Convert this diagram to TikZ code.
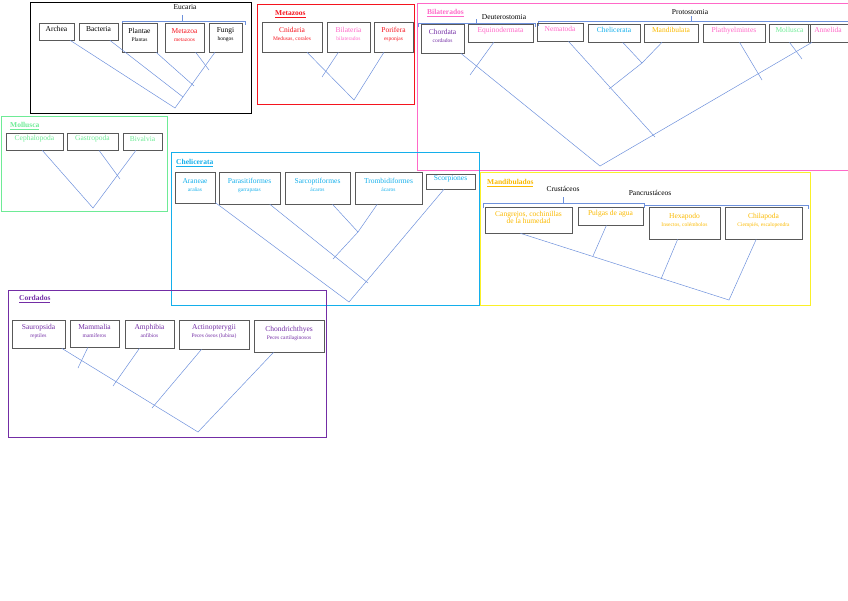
\documentclass[tikz,border=0pt]{standalone}
\usepackage{fontspec}
\setmainfont{Liberation Serif}
\usetikzlibrary{fit}
\definecolor{linkblue}{RGB}{110,145,220}
\definecolor{tred}{RGB}{245,20,30}
\definecolor{tpink}{RGB}{255,105,200}
\definecolor{tcyan}{RGB}{20,175,235}
\definecolor{tgold}{RGB}{250,185,0}
\definecolor{tgreen}{RGB}{110,235,150}
\definecolor{tpurple}{RGB}{115,45,165}
\definecolor{tyellow}{RGB}{250,240,40}
\newcommand{\sub}[1]{\\[-1pt]{\fontsize{5.5}{6}\selectfont #1}}
\begin{document}
\begin{tikzpicture}[x=1pt,y=-1pt,inner sep=0pt,
  taxon/.style={draw=black!65,line width=0.7pt,align=center,font=\fontsize{7.5}{9}\selectfont},
  frame/.style={line width=0.8pt},
  link/.style={draw=linkblue,line width=0.5pt},
  brace/.style={draw=linkblue,line width=0.5pt},
  title/.style={font=\fontsize{7.5}{9}\selectfont\bfseries,anchor=west},
  clade/.style={font=\fontsize{7.5}{9}\selectfont}]
\useasboundingbox (0,0) rectangle (848,600);
%Frames
\draw[frame,black] (30,2) rectangle (251,113);
\draw[frame,tred] (257,4) rectangle (414,104);
\draw[frame,tpink] (417,3) rectangle (848,170);
\draw[frame,tgreen] (1,116) rectangle (167,211);
\draw[frame,tcyan] (171,152) rectangle (479,305);
\draw[frame,tyellow] (480,172) rectangle (810,305);
\draw[frame,tpurple] (8,290) rectangle (326,437);
%Titles
\node[title,tred] at (275,14) {\underline{Metazoos}};
\node[title,tpink] at (427,13) {\underline{Bilaterados}};
\node[title,tgreen] at (10,126) {\underline{Mollusca}};
\node[title,tcyan] at (176,163) {\underline{Chelicerata}};
\node[title,tgold] at (487,183) {\underline{Mandibulados}};
\node[title,tpurple] at (19,299) {\underline{Cordados}};
\node[clade] (eucaria) at (185,7) {Eucaria};
\node[clade] (deutero) at (504,17) {Deuterostomia};
\node[clade] (proto) at (690,12) {Protostomia};
\node[clade] (crust) at (563,189) {Crustáceos};
\node[clade] (pancrust) at (650,193) {Pancrustáceos};
%Braces
\draw[brace] (122,25) -- (122,21) -- (245,21) -- (245,25) (182,21) -- (182,15);
\draw[brace] (418,27) -- (418,23) -- (535,23) -- (535,27) (476,23) -- (476,19);
\draw[brace] (538,26) -- (538,21) -- (848,21) (691,21) -- (691,16);
\draw[brace] (483,208) -- (483,203) -- (644,203) -- (644,208) (563,203) -- (563,197);
\draw[brace] (644,205) -- (808,205) -- (808,209);
%Eucaria
\node[taxon,fit={(39,23)(74,40)}] (archea) {Archea};
\node[taxon,fit={(79,23)(118,40)}] (bacteria) {Bacteria};
\node[taxon,fit={(122,23)(157,52)}] (plantae) {Plantae\sub{Plantas}};
\node[taxon,fit={(165,23)(204,52)},text=tred] (metazoa) {Metazoa\sub{metazoos}};
\node[taxon,fit={(209,23)(242,52)}] (fungi) {Fungi\sub{hongos}};
\coordinate (e1) at (209,70); \coordinate (e2) at (194,86);
\coordinate (e3) at (183,97); \coordinate (e0) at (175,108);
\draw[link] (archea) -- (e0) -- (fungi);
\draw[link] (bacteria) -- (e3);
\draw[link] (plantae) -- (e2);
\draw[link] (metazoa) -- (e1);
%Metazoos
\node[taxon,fit={(262,22)(322,52)},text=tred] (cnidaria) {Cnidaria\sub{Medusas, corales}};
\node[taxon,fit={(327,22)(370,52)},text=tpink] (bilateria) {Bilateria\sub{bilaterados}};
\node[taxon,fit={(374,22)(413,52)},text=tred] (porifera) {Porifera\sub{esponjas}};
\coordinate (m1) at (322,77); \coordinate (m0) at (354,100);
\draw[link] (cnidaria) -- (m0) -- (porifera);
\draw[link] (bilateria) -- (m1);
%Bilaterados
\node[taxon,fit={(421,24)(464,53)},text=tpurple] (chordata) {Chordata\sub{cordados}};
\node[taxon,fit={(468,24)(533,42)},text=tpink] (equino) {Equinodermata};
\node[taxon,fit={(537,23)(583,41)},text=tpink] (nematoda) {Nematoda};
\node[taxon,fit={(588,24)(640,42)},text=tcyan] (chelic) {Chelicerata};
\node[taxon,fit={(644,24)(698,42)},text=tgold] (mandib) {Mandibulata};
\node[taxon,fit={(703,24)(765,42)},text=tpink] (plathy) {Plathyelmintes};
\node[taxon,fit={(769,24)(810,42)},text=tgreen] (mollus) {Mollusca};
\node[taxon,fit={(808,24)(848,42)},text=tpink] (annelida) {Annelida};
\coordinate (b0) at (600,166); \coordinate (b1) at (470,75);
\coordinate (b2) at (655,137); \coordinate (b3) at (609,89);
\coordinate (b4) at (642,63); \coordinate (b5) at (762,80);
\coordinate (b6) at (802,59);
\draw[link] (chordata) -- (b0) -- (annelida);
\draw[link] (equino) -- (b1);
\draw[link] (nematoda) -- (b2);
\draw[link] (chelic) -- (b4) -- (b3);
\draw[link] (mandib) -- (b4);
\draw[link] (plathy) -- (b5);
\draw[link] (mollus.south) -- (b6);
%Mollusca
\node[taxon,fit={(6,133)(63,150)},text=tgreen] (cephalo) {Cephalopoda};
\node[taxon,fit={(67,133)(118,150)},text=tgreen] (gastro) {Gastropoda};
\node[taxon,fit={(123,133)(162,150)},text=tgreen] (bivalvia) {Bivalvia};
\coordinate (o1) at (120,179); \coordinate (o0) at (93,208);
\draw[link] (cephalo) -- (o0) -- (bivalvia);
\draw[link] (gastro) -- (o1);
%Chelicerata
\node[taxon,fit={(175,172)(215,203)},text=tcyan] (araneae) {Araneae\sub{arañas}};
\node[taxon,fit={(219,172)(280,204)},text=tcyan] (parasit) {Parasitiformes\sub{garrapatas}};
\node[taxon,fit={(285,172)(350,204)},text=tcyan] (sarcopt) {Sarcoptiformes\sub{ácaros}};
\node[taxon,fit={(355,172)(422,204)},text=tcyan] (trombid) {Trombidiformes\sub{ácaros}};
\node[taxon,fit={(426,174)(475,189)},text=tcyan] (scorp) {Scorpiones};
\coordinate (c0) at (349,302); \coordinate (c1) at (368,283);
\coordinate (c2) at (333,259); \coordinate (c3) at (358,232);
\draw[link] (araneae) -- (c0) -- (scorp);
\draw[link] (parasit) -- (c1);
\draw[link] (sarcopt) -- (c3);
\draw[link] (trombid) -- (c3) -- (c2);
%Mandibulados
\node[taxon,fit={(485,207)(572,233)},text=tgold] (cangrejos) {Cangrejos, cochinillas\\[-2pt]de la humedad};
\node[taxon,fit={(578,207)(643,225)},text=tgold] (pulgas) {Pulgas de agua};
\node[taxon,fit={(649,207)(720,239)},text=tgold] (hexapodo) {Hexapodo\sub{Insectos, colémbolos}};
\node[taxon,fit={(725,207)(802,239)},text=tgold] (chilapoda) {Chilapoda\sub{Ciempiés, escalopendra}};
\coordinate (d0) at (729,300); \coordinate (d1) at (593,256);
\coordinate (d2) at (661,279);
\draw[link] ([xshift=-8pt]cangrejos.south) -- (d0) -- (chilapoda);
\draw[link] (pulgas) -- (d1);
\draw[link] (hexapodo) -- (d2);
%Cordados
\node[taxon,fit={(12,320)(65,348)},text=tpurple] (sauro) {Sauropsida\sub{reptiles}};
\node[taxon,fit={(70,320)(119,347)},text=tpurple] (mamma) {Mammalia\sub{mamíferos}};
\node[taxon,fit={(125,320)(174,348)},text=tpurple] (amphi) {Amphibia\sub{anfibios}};
\node[taxon,fit={(179,320)(249,349)},text=tpurple] (actino) {Actinopterygii\sub{Peces óseos (lubina)}};
\node[taxon,fit={(254,320)(324,352)},text=tpurple] (chondri) {Chondrichthyes\sub{Peces cartilaginosos}};
\coordinate (r0) at (198,432); \coordinate (r1) at (78,368);
\coordinate (r2) at (113,386); \coordinate (r3) at (152,408);
\draw[link] (sauro) -- (r0) -- (chondri);
\draw[link] (mamma) -- (r1);
\draw[link] (amphi) -- (r2);
\draw[link] (actino) -- (r3);
\end{tikzpicture}
\end{document}
